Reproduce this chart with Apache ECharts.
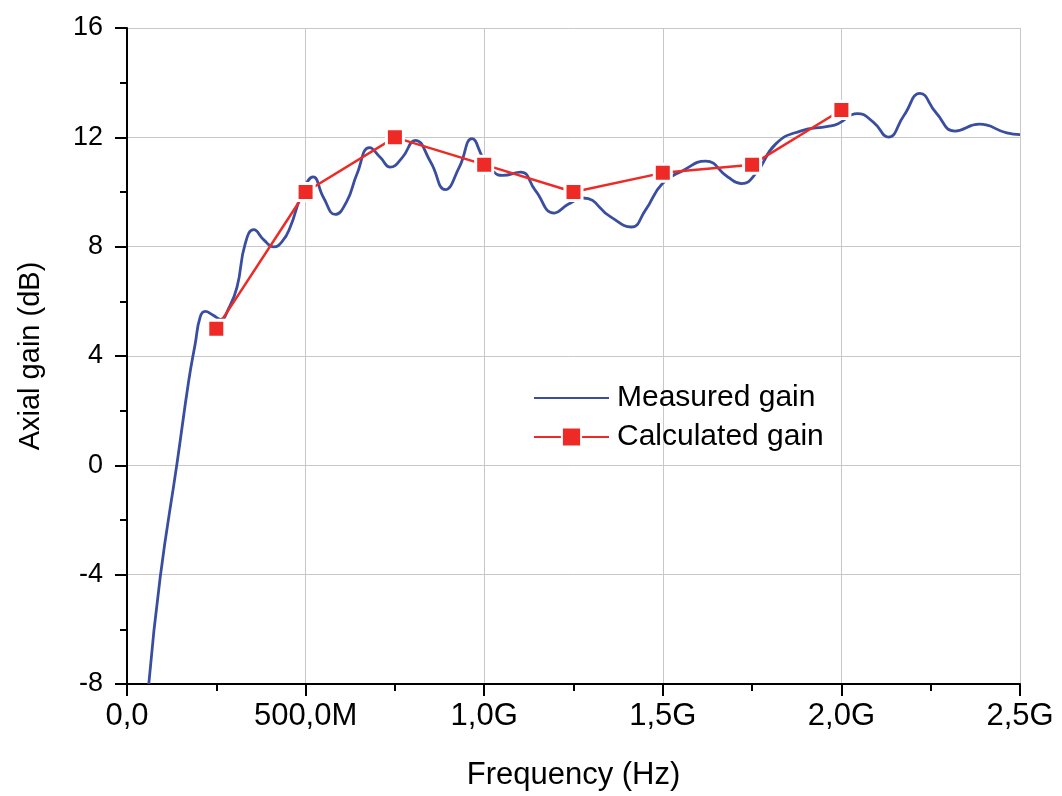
<!DOCTYPE html>
<html>
<head>
<meta charset="utf-8">
<script src="https://cdn.jsdelivr.net/npm/echarts@6/dist/echarts.min.js"></script>
<style>html,body{margin:0;padding:0;background:#fff;}#c{width:1062px;height:796px;}</style>
</head>
<body>
<div id="c"></div>
<script>
// Frequency in GHz
const measuredFreq = [0.061,0.093,0.140,0.173,0.191,0.205,0.219,0.240,0.262,0.285,0.308,0.331,0.355,0.383,0.411,0.435,0.457,0.490,0.521,0.550,0.583,0.615,0.644,0.679,0.710,0.737,0.770,0.807,0.850,0.891,0.930,0.966,0.998,1.027,1.052,1.102,1.143,1.196,1.235,1.277,1.354,1.412,1.451,1.499,1.557,1.620,1.682,1.721,1.760,1.817,1.885,1.962,1.991,2.044,2.090,2.131,2.175,2.220,2.265,2.318,2.386,2.463,2.500];
const measuredGain = [-8.0,-4.09,0.07,3.11,4.45,5.43,5.63,5.50,5.34,5.75,6.52,8.11,8.62,8.25,7.99,8.20,8.72,9.94,10.55,9.80,9.18,9.65,10.67,11.62,11.25,10.91,11.25,11.89,11.10,10.09,10.90,11.95,11.22,10.73,10.61,10.73,10.06,9.23,9.55,9.78,9.09,8.72,9.33,10.31,10.79,11.13,10.55,10.31,10.67,11.77,12.23,12.40,12.50,12.87,12.55,12.01,12.80,13.61,12.90,12.23,12.48,12.16,12.10];
const calcFreq = [0.25,0.5,0.75,1.0,1.25,1.5,1.75,2.0];
const calcGain = [5.0,10.0,12.0,11.0,10.0,10.7,11.0,13.0];
const yTicks = [-8,-4,0,4,8,12,16];

const chart = echarts.init(document.getElementById('c'), null, {renderer:'canvas'});
const font = 'Liberation Sans, Arial, Helvetica, sans-serif';
function fmtX(v){
  if (v === 0) return '0,0';
  if (v < 1) return (v*1000).toFixed(1).replace('.', ',') + 'M';
  return v.toFixed(1).replace('.', ',') + 'G';
}
chart.setOption({
  animation:false,
  backgroundColor:'#fff',
  grid:{left:127, right:42, top:28, bottom:112, containLabel:false},
  legend:{
    left:533, top:383, orient:'vertical', itemWidth:75, itemHeight:24, itemGap:9, padding:0,
    textStyle:{fontFamily:font, fontSize:30, color:'#000', padding:[0,0,0,3]},
    data:[
      {name:'Measured gain', itemStyle:{opacity:0}},
      {name:'Calculated gain'}
    ]
  },
  xAxis:{
    type:'value', min:0, max:2.5, interval:0.5,
    name:'Frequency (Hz)', nameLocation:'middle', nameGap:76,
    nameTextStyle:{fontFamily:font, fontSize:31, color:'#000'},
    axisLine:{show:true, onZero:false, lineStyle:{color:'#000', width:2}},
    axisTick:{show:true, inside:false, length:12, lineStyle:{color:'#000', width:2}},
    minorTick:{show:true, splitNumber:2, length:7, lineStyle:{color:'#000', width:2}},
    axisLabel:{fontFamily:font, fontSize:31, color:'#000', margin:17, formatter:fmtX},
    splitLine:{show:true, lineStyle:{color:'#c8c8c8', width:1}}
  },
  yAxis:{
    type:'value', min:yTicks[0], max:yTicks[yTicks.length-1], interval:4,
    name:'Axial gain (dB)', nameLocation:'middle', nameGap:82, nameRotate:90,
    nameTextStyle:{fontFamily:font, fontSize:29, color:'#000'},
    axisLine:{show:true, onZero:false, lineStyle:{color:'#000', width:2}},
    axisTick:{show:true, inside:false, length:12, lineStyle:{color:'#000', width:2}},
    minorTick:{show:true, splitNumber:2, length:7, lineStyle:{color:'#000', width:2}},
    axisLabel:{fontFamily:font, fontSize:27, color:'#000', margin:24},
    splitLine:{show:true, lineStyle:{color:'#c8c8c8', width:1}}
  },
  series:[
    {
      name:'Measured gain', type:'line', smooth:0.5, symbol:'none', showSymbol:false,
      lineStyle:{color:'#3a4e9f', width:2.8}, itemStyle:{color:'#3a4e9f'},
      data: measuredFreq.map((f,i)=>[f, measuredGain[i]]), z:2
    },
    {
      name:'Calculated gain', type:'line', symbol:'rect', symbolSize:17,
      lineStyle:{color:'#ee2a26', width:2.5},
      itemStyle:{color:'#ee2a26', borderColor:'#fff', borderWidth:3},
      data: calcFreq.map((f,i)=>[f, calcGain[i]]), z:3
    }
  ]
});
</script>
</body>
</html>
